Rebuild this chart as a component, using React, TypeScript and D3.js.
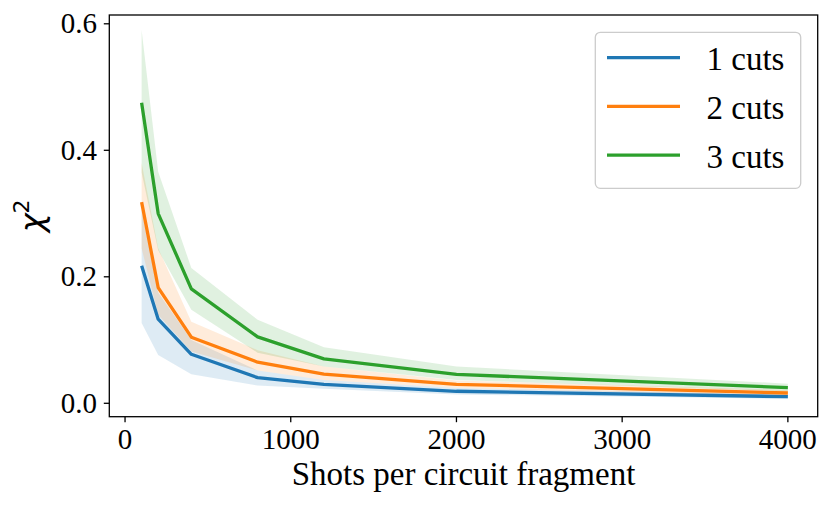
import React from "react";
import * as d3 from "d3";

const shots = [100, 200, 400, 800, 1200, 2000, 4000];
const seriesNames = ["1 cuts", "2 cuts", "3 cuts"];
const colors = ["#1f77b4", "#ff7f0e", "#2ca02c"];

const mean1 = [0.2175, 0.133, 0.0775, 0.0405, 0.030, 0.0190, 0.0105];
const low1 = [0.127, 0.0765, 0.046, 0.028, 0.023, 0.014, 0.007];
const high1 = [0.305, 0.175, 0.100, 0.052, 0.037, 0.024, 0.014];

const mean2 = [0.318, 0.183, 0.1045, 0.065, 0.046, 0.030, 0.0163];
const low2 = [0.245, 0.140, 0.082, 0.052, 0.037, 0.024, 0.012];
const high2 = [0.380, 0.245, 0.129, 0.084, 0.058, 0.036, 0.021];

const mean3 = [0.475, 0.300, 0.181, 0.105, 0.0703, 0.0458, 0.0247];
const low3 = [0.365, 0.242, 0.148, 0.080, 0.058, 0.037, 0.019];
const high3 = [0.590, 0.366, 0.214, 0.132, 0.0885, 0.058, 0.031];

const xTicks = [0, 1000, 2000, 3000, 4000];
const yTicks = [0.0, 0.2, 0.4, 0.6];

const means = [mean1, mean2, mean3];
const lows = [low1, low2, low3];
const highs = [high1, high2, high3];

const W = 831;
const H = 508;
const left = 109.3;
const right = 817.7;
const top = 15;
const bottom = 416.7;

export default function App() {
  const x = d3.scaleLinear().domain([-95, 4180]).range([left, right]);
  const y = d3.scaleLinear().domain([-0.0212, 0.6139]).range([bottom, top]);

  const line = d3
    .line<[number, number]>()
    .x((d) => x(d[0]))
    .y((d) => y(d[1]));
  const area = d3
    .area<[number, number, number]>()
    .x((d) => x(d[0]))
    .y0((d) => y(d[1]))
    .y1((d) => y(d[2]));

  const serif = "'Liberation Serif', 'Times New Roman', serif";

  return (
    <svg
      width={W}
      height={H}
      viewBox={`0 0 ${W} ${H}`}
      style={{ position: "absolute", left: 0, top: 0, background: "#fff" }}
    >
      <rect x={0} y={0} width={W} height={H} fill="#fff" />
      <defs>
        <clipPath id="plotclip">
          <rect x={left} y={top} width={right - left} height={bottom - top} />
        </clipPath>
      </defs>
      <g clipPath="url(#plotclip)">
        {means.map((m, i) => (
          <path
            key={"a" + i}
            d={area(shots.map((s, j) => [s, lows[i][j], highs[i][j]]) as any) || ""}
            fill={colors[i]}
            fillOpacity={0.15}
            stroke="none"
          />
        ))}
        {means.map((m, i) => (
          <path
            key={"l" + i}
            d={line(shots.map((s, j) => [s, m[j]]) as any) || ""}
            fill="none"
            stroke={colors[i]}
            strokeWidth={3.3}
            strokeLinejoin="round"
            strokeLinecap="butt"
          />
        ))}
      </g>
      {/* spines */}
      <rect
        x={left}
        y={top}
        width={right - left}
        height={bottom - top}
        fill="none"
        stroke="#000"
        strokeWidth={1.3}
      />
      {/* x ticks */}
      {xTicks.map((t) => (
        <g key={"xt" + t}>
          <line x1={x(t)} x2={x(t)} y1={bottom} y2={bottom + 5.5} stroke="#000" strokeWidth={1.3} />
          <text
            x={x(t)}
            y={449.3}
            textAnchor="middle"
            fontFamily={serif}
            fontSize={29}
            fill="#000"
          >
            {t}
          </text>
        </g>
      ))}
      {/* y ticks */}
      {yTicks.map((t) => (
        <g key={"yt" + t}>
          <line x1={left - 5.5} x2={left} y1={y(t)} y2={y(t)} stroke="#000" strokeWidth={1.3} />
          <text
            x={97}
            y={y(t) + 9.5}
            textAnchor="end"
            fontFamily={serif}
            fontSize={29}
            fill="#000"
          >
            {t.toFixed(1)}
          </text>
        </g>
      ))}
      {/* x label */}
      <text
        x={(left + right) / 2}
        y={485}
        textAnchor="middle"
        fontFamily={serif}
        fontSize={33}
        fill="#000"
      >
        Shots per circuit fragment
      </text>
      {/* y label */}
      <text
        transform={`translate(43, ${(top + bottom) / 2}) rotate(-90)`}
        textAnchor="middle"
        fontFamily="'DejaVu Sans', sans-serif"
        fontSize={32}
        fill="#000"
      >
        <tspan fontStyle="italic">χ</tspan>
        <tspan fontSize={22} dy={-14}>2</tspan>
      </text>
      {/* legend */}
      <rect
        x={595.3}
        y={32.3}
        width={205.4}
        height={156}
        rx={5}
        ry={5}
        fill="#fff"
        fillOpacity={0.8}
        stroke="#cccccc"
        strokeWidth={1.3}
      />
      {seriesNames.map((name, i) => {
        const ly = 57.7 + i * 48.7;
        return (
          <g key={"lg" + i}>
            <line x1={607} x2={680} y1={ly} y2={ly} stroke={colors[i]} strokeWidth={3.3} />
            <text
              x={706.5}
              y={ly + 12.5}
              fontFamily={serif}
              fontSize={33}
              fill="#000"
            >
              {name}
            </text>
          </g>
        );
      })}
    </svg>
  );
}
